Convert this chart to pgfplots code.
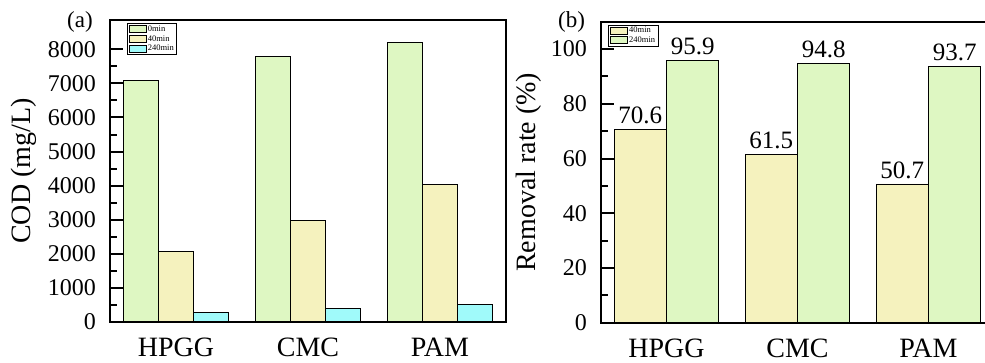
\documentclass[border=0pt]{standalone}
\usepackage{fontspec}
\setmainfont{Liberation Serif}
\usepackage{pgfplots}
\pgfplotsset{compat=1.18}
\definecolor{cgreen}{RGB}{222,247,194}
\definecolor{cyellow}{RGB}{245,242,190}
\definecolor{ccyan}{RGB}{160,250,250}
\begin{document}
\begin{tikzpicture}[x=1pt,y=1pt]
\useasboundingbox (0,0) rectangle (985,362);
\pgfplotsset{
  common/.style={
    scale only axis,
    axis on top,
    ybar=0pt,
    ymin=0,
    xtick=\empty,
    extra x ticks={0,1,2},
    extra x tick labels={HPGG,CMC,PAM},
    extra x tick style={major tick length=0pt, xticklabel style={anchor=north, inner sep=0pt, yshift=-16pt, font=\fontsize{28}{28}\selectfont}},
    yticklabel style={anchor=east, inner sep=0pt, xshift=-14pt, font=\fontsize{24}{24}\selectfont},
    /pgf/number format/assume math mode=true,
    /pgf/number format/1000 sep={},
    ytick pos=left,
    ytick align=inside,
    every tick/.style={line width=2pt, black},
    every major tick/.append style={line width=2pt, black},
    every minor tick/.append style={line width=2pt, black},
    major tick length=13pt,
    minor tick length=7pt,
    minor y tick num=1,
    axis line style={line width=2.2pt},
    ylabel style={anchor=center, font=\fontsize{28}{28}\selectfont},
    every axis plot/.append style={draw=black, line width=0.9pt},
    legend image code/.code={\draw[#1, line width=0.8pt] (0pt,-3.5pt) rectangle (17pt,3.5pt);},
    legend cell align=left,
    legend style={anchor=north west, draw=black, line width=0.8pt,
      font=\fontsize{8.5}{9}\selectfont, inner xsep=2pt, inner ysep=1pt,
      row sep=0.5pt, nodes={inner sep=1pt}},
  }
}
% Panel (a)
\begin{axis}[common,
  at={(110pt,40pt)}, anchor=south west,
  width=396pt, height=302pt,
  xmin=-0.5, xmax=2.5,
  ymax=8860,
  ytick={0,1000,...,8000},
  ylabel={COD (mg/L)},
  ylabel style={at={(axis description cs:-0.218,0.5)}},
  bar width=0.265,
  legend style={at={(rel axis cs:0.042,0.989)}},
]
\addplot[fill=cgreen, bar shift=-0.265] coordinates {(0,7090) (1,7780) (2,8190)};
\addplot[fill=cyellow, bar shift=0] coordinates {(0,2075) (1,2990) (2,4035)};
\addplot[fill=ccyan, bar shift=0.265] coordinates {(0,285) (1,400) (2,512)};
\legend{0min,40min,240min}
\end{axis}
% Panel (b)
\begin{axis}[common,
  at={(601pt,39.3pt)}, anchor=south west,
  width=386pt, height=301pt,
  xmin=-0.5, xmax=2.447,
  ymax=110,
  ytick={0,20,...,100},
  ylabel={Removal rate (\%)},
  ylabel style={at={(axis description cs:-0.187,0.5)}},
  bar width=0.4,
  nodes near coords={\pgfmathprintnumber[fixed,fixed zerofill,precision=1,assume math mode=true]{\pgfplotspointmeta}},
  nodes near coords style={font=\fontsize{25}{25}\selectfont, anchor=south, inner sep=0pt, yshift=5pt},
  legend style={at={(rel axis cs:0.018,0.99)}},
]
\addplot[fill=cyellow, bar shift=-0.2] coordinates {(0,70.6) (1,61.5) (2,50.7)};
\addplot[fill=cgreen, bar shift=0.2] coordinates {(0,95.9) (1,94.8) (2,93.7)};
\legend{40min,240min}
\end{axis}
\node[font=\fontsize{23}{23}\selectfont] at (80,340) {(a)};
\node[font=\fontsize{23}{23}\selectfont] at (571.5,340) {(b)};
\end{tikzpicture}
\end{document}
